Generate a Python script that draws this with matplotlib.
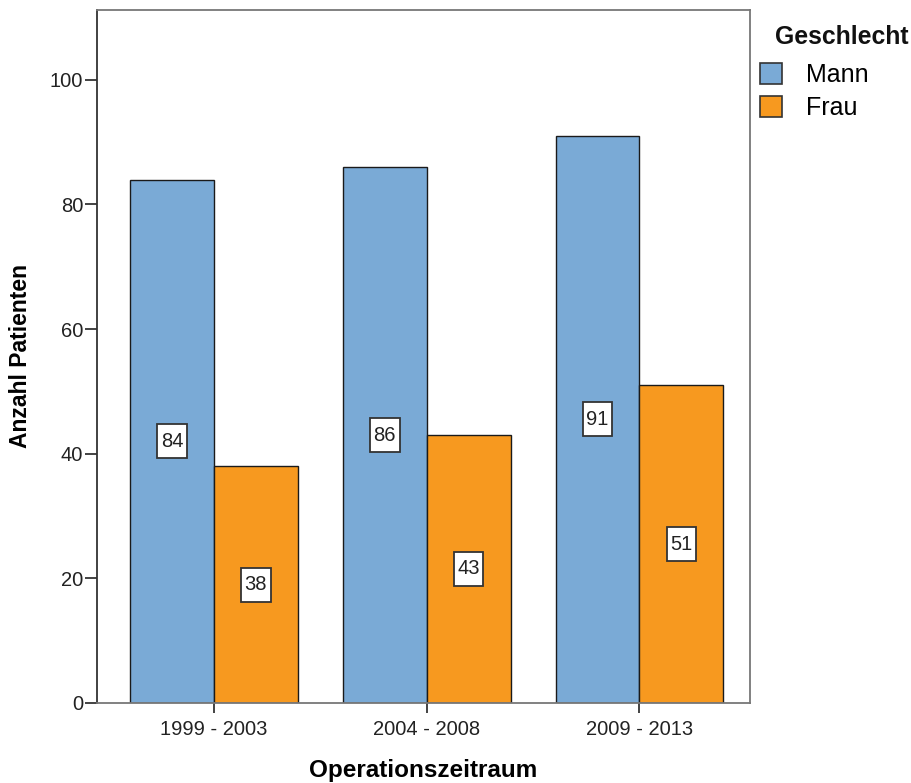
import matplotlib
matplotlib.use("Agg")
import matplotlib.pyplot as plt
import numpy as np
from matplotlib.patches import Patch
from matplotlib.path import Path

plt.rcParams['font.family'] = ['Liberation Sans', 'DejaVu Sans']

periods = ["1999 - 2003", "2004 - 2008", "2009 - 2013"]
mann = [84, 86, 91]
frau = [38, 43, 51]
series_names = ["Mann", "Frau"]
legend_title = "Geschlecht"
colors = ["#7AAAD6", "#F7991F"]


class LabelBox:
    """Rectangular text box with separate horizontal and vertical padding."""

    def __init__(self, padx, pady):
        self.padx = padx
        self.pady = pady

    def __call__(self, x0, y0, width, height, mutation_size):
        px = self.padx * mutation_size
        py = self.pady * mutation_size
        x1, y1 = x0 + width + px, y0 + height + py
        x0, y0 = x0 - px, y0 - py
        return Path([(x0, y0), (x1, y0), (x1, y1), (x0, y1), (x0, y0)],
                    closed=True)


fig = plt.figure(figsize=(9.11, 7.83), dpi=100)
ax = fig.add_axes([0.1065, 0.1022, 0.7168, 0.885])

x = np.arange(len(periods))
w = 0.394
for vals, off, col in [(mann, -w / 2, colors[0]), (frau, w / 2, colors[1])]:
    bars = ax.bar(x + off, vals, width=w, color=col, edgecolor="#1a1a1a",
                  linewidth=1.0, zorder=2)
    for b, v in zip(bars, vals):
        ax.text(b.get_x() + b.get_width() / 2, v / 2, str(v), ha="center",
                va="center", fontsize=14.5, color="#222222", zorder=3,
                bbox=dict(boxstyle=LabelBox(0.18, 0.37), fc="white",
                          ec="#333333", lw=1.3))

ax.set_xlim(-0.55, 2.52)
ax.set_ylim(0, 111.2)
ax.set_yticks([0, 20, 40, 60, 80, 100])
ax.set_xticks(x)
ax.set_xticklabels(periods)
ax.tick_params(axis="both", labelsize=14.5, colors="#222222", width=1.2,
               direction="out")
ax.tick_params(axis="y", length=9, pad=1)
ax.tick_params(axis="x", length=7.5, pad=5)

ax.spines["left"].set_color("#333333")
ax.spines["left"].set_linewidth(1.3)
for side in ["top", "right", "bottom"]:
    ax.spines[side].set_color("#777777")
    ax.spines[side].set_linewidth(1.3)

ax.set_ylabel("Anzahl Patienten", fontsize=16.5, fontweight="bold", labelpad=13)
ax.set_xlabel("Operationszeitraum", fontsize=17.5, fontweight="bold", labelpad=14)

fig.text(775 / 911, 1 - 37 / 783, legend_title, fontsize=17.8,
         fontweight="bold", ha="left", va="center", color="#111111")
handles = [Patch(facecolor=c, edgecolor="#333333", lw=1.2, label=n)
           for c, n in zip(colors, series_names)]
leg = fig.legend(handles=handles, loc="upper left",
                 bbox_to_anchor=(760 / 911, 1 - 63 / 783), frameon=False,
                 fontsize=18, handlelength=0.88, handleheight=0.92,
                 handletextpad=0.95, labelspacing=0.36, borderpad=0,
                 borderaxespad=0)

fig.savefig("out.png", dpi=100)
